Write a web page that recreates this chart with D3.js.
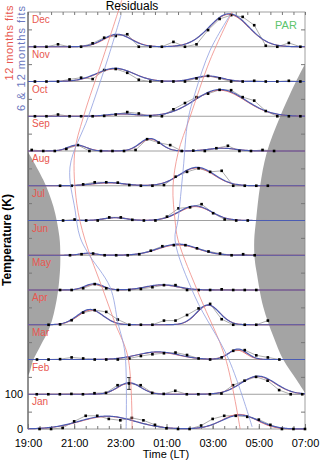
<!DOCTYPE html>
<meta charset="utf-8">
<html>
<head>
<style>
  body { margin: 0; background: #fff; }
  text { font-family: "Liberation Sans", Arial, sans-serif; }
  .axis path { display: none; }
  .axis line { stroke: #777; }
  .axis text { fill: #000; font-size: 11px; font-family: "Liberation Sans", Arial, sans-serif; }
</style>
</head>
<body>
<svg width="320" height="462"></svg>
<script src="https://d3js.org/d3.v7.min.js"></script>
<script>
// months, bottom panel first
var months = ["Jan", "Feb", "Mar", "Apr", "May", "Jun", "Jul", "Aug", "Sep", "Oct", "Nov", "Dec"];

// time of first sample (hours, >24 = after midnight), samples every 30 min
var startTimes = [19.5, 19.38, 19.39, 19.89, 20.39, 20.82, 20.52, 20.39, 19.16, 19.3, 19.3, 19.3];

// temperature residuals (K) for each month
var janValues = [0, 0, 3, 22, 38, 38, 29, 25, 32, 25, 12, 2, 0, 0, 10, 29, 38, 38, 35, 27, 12, 0, 0, 0];
var febValues = [0, 0, 0, 1, 0, 3, 4, 26, 31, 26, 4, 1, 10, 0, 0, 0, 2, 26, 39, 50, 39, 12, 0, 0];
var marValues = [0, 0, 1, 6, 3, 0, 0, 0, 3, 10, 15, 18, 20, 13, 3, 0, 6, 25, 27, 12, 6, 0];
var aprValues = [0, 1, 13, 35, 42, 37, 15, 0, 0, 0, 12, 12, 28, 47, 60, 16, 0, 0, 0, 12];
var mayValues = [0, 0, 5, 17, 5, 0, 0, 3, 8, 14, 14, 0, 0, 0, 2, 0, 0, 0];
var junValues = [0, 3, 5, 0, 0, 0, 3, 13, 26, 29, 29, 20, 11, 5, 0, 3, 0];
var julValues = [0, 3, 0, 0, 9, 9, 2, 0, 0, 11, 35, 38, 47, 21, 3, 0, 0];
var augValues = [0, 0, 4, 10, 10, 9, 2, 0, 0, 2, 26, 40, 50, 40, 43, 0, 0, 0, 0];
var sepValues = [3, 0, 0, 6, 17, 0, 0, 0, 0, 3, 34, 24, 17, 0, 1, 0, 8, 15, 0, 0, 3, 0];
var octValues = [0, 0, 5, 0, 0, 0, 1, 5, 12, 8, 0, 0, 20, 38, 55, 65, 76, 75, 55, 45, 15, 0, 0, 0];
var novValues = [0, 0, 0, 6, 11, 7, 33, 36, 25, 5, 0, 0, 0, 0, 9, 16, 9, 0, 0, 2, 0, 0, 2, 0];
var decValues = [0, 0, 7, 0, 0, 10, 26, 31, 36, 0, 0, 0, 14, 0, 7, 48, 80, 91, 86, 62, 3, 0, 11, 0];
var allValues = [janValues, febValues, marValues, aprValues, mayValues, junValues,
                 julValues, augValues, sepValues, octValues, novValues, decValues];

// error bars: [month index, sample index, +/- K]
var errorBars = [[1, 8, 17]];

// gaussian fit components [centre hour, amplitude K, width hours]
var blueFits = [
  [[22.42, 37, 1.2], [28.19, 40, 0.8]],
  [[23.38, 33, 0.5], [28.97, 52, 0.75]],
  [[24.63, 22, 0.9], [28.1, 30, 0.4]],
  [[21.69, 44, 0.55], [26.8, 57, 0.5]],
  [[21.86, 18, 0.4], [24.81, 15, 0.7]],
  [[21.6, 6, 0.35], [25.5, 32, 0.85]],
  [[22.77, 8, 0.5], [26.24, 42, 0.7]],
  [[22.47, 9, 0.7], [26.32, 53, 0.75]],
  [[21.12, 17, 0.4], [24.29, 36, 0.45], [27.41, 8, 0.6]],
  [[23.07, 7, 0.6], [27.32, 77, 1.1]],
  [[22.77, 38, 0.8], [26.8, 16, 0.6]],
  [[22.86, 36, 0.6], [27.71, 95, 0.85]]
];
var redFits = [
  [[22.45, 36, 1.2], [28.15, 42, 0.75]],
  [[23.4, 32, 0.5], [28.95, 51, 0.75]],
  [[24.6, 21, 0.9], [28.05, 27, 0.4]],
  [[21.72, 42, 0.55], [26.82, 56, 0.5]],
  [[21.86, 16, 0.4], [24.8, 14, 0.7]],
  [[21.6, 5, 0.35], [25.5, 30, 0.85]],
  [[22.8, 8, 0.5], [26.25, 40, 0.7]],
  [[22.5, 8, 0.7], [26.3, 51, 0.75]],
  [[21.15, 16, 0.4], [24.3, 34, 0.45], [27.4, 8, 0.6]],
  [[23.1, 6, 0.6], [27.3, 75, 1.1]],
  [[22.8, 37, 0.8], [26.8, 15, 0.6]],
  [[22.9, 35, 0.6], [27.7, 93, 0.85]]
];

// peak-time tracks [hour, level K on the stacked scale]
var redLeft = [[23.06, 1234], [22.9, 1200], [22.25, 1068], [21.4, 898], [21.02, 794], [21.11, 650],
               [21.47, 544], [22.25, 400], [22.77, 305], [23.33, 207], [23.51, 0]];
var blueLeft = [[23.03, 1191], [22.47, 1068], [21.61, 898], [20.82, 754], [21.04, 630], [21.25, 553],
                [21.6, 506], [22.55, 409], [22.9, 305], [23.2, 219], [23.25, 0]];
var redRight = [[27.84, 1200], [26.89, 1062], [26.02, 898], [25.5, 794], [25.28, 696], [25.37, 601],
                [25.5, 544], [26.45, 380], [27.54, 207], [28.19, 0]];
var blueRight = [[27.75, 1191], [26.89, 1090], [26.24, 967], [25.93, 889], [25.72, 745], [25.5, 601],
                 [25.37, 544], [26.24, 380], [27.7, 200], [28.71, 6]];

// daylight boundaries [hour, level K]
var sunsetEdge = [[19.0, 797], [19.66, 717], [20.1, 640], [20.36, 553], [20.4, 500], [20.38, 450],
                  [20.24, 371], [19.95, 294], [19.52, 237], [19.23, 199], [19.06, 161], [19.0, 155]];
var sunriseEdge = [[31.0, 1050], [30.64, 1004], [29.9, 895], [29.34, 794], [29.05, 697], [28.88, 601],
                   [28.8, 544], [28.82, 490], [28.91, 449], [29.19, 352], [29.63, 266], [30.06, 199],
                   [30.64, 141], [31.0, 104]];

var xTicks = [19, 21, 23, 25, 27, 29, 31];

var svg = d3.select("svg");
var padL = 28, padR = 305, padT = 12, padB = 429;

var x = d3.scaleLinear().domain([19, 31]).range([padL, padR]);
var y = d3.scaleLinear().domain([0, 1200]).range([padB, padT]);

function gauss(comps, t) {
  var s = 0;
  comps.forEach(function(c) { s += c[1] * Math.exp(-(t - c[0]) * (t - c[0]) / (2 * c[2] * c[2])); });
  return s;
}

// shaded daylight
svg.append("path")
  .attr("fill", "#a4a4a4")
  .attr("d", d3.area().curve(d3.curveCatmullRom)
    .y(function(d) { return y(d[1]); })
    .x0(x(19)).x1(function(d) { return x(d[0]); })(sunsetEdge));
svg.append("path")
  .attr("fill", "#a4a4a4")
  .attr("d", d3.area().curve(d3.curveCatmullRom)
    .y(function(d) { return y(d[1]); })
    .x0(function(d) { return x(d[0]); }).x1(x(31))(sunriseEdge));

// panel separators
for (var m = 1; m < 12; m++) {
  svg.append("line")
    .attr("x1", padL).attr("x2", padR)
    .attr("y1", y(m * 100)).attr("y2", y(m * 100))
    .attr("stroke", "#888").attr("stroke-width", 0.8);
}

// frame
svg.append("rect")
  .attr("x", padL).attr("y", padT)
  .attr("width", padR - padL).attr("height", padB - padT)
  .attr("fill", "none").attr("stroke", "#888").attr("stroke-width", 0.8);
svg.append("line")
  .attr("x1", padL).attr("x2", padL).attr("y1", padT).attr("y2", padB)
  .attr("stroke", "#333").attr("stroke-width", 0.8);

// axes
var halfHours = d3.range(19, 31.01, 0.5);
svg.append("g").attr("class", "axis")
  .attr("transform", "translate(0," + padB + ")")
  .call(d3.axisBottom(x).tickValues(halfHours).tickSize(-3).tickFormat(""));
svg.append("g").attr("class", "axis")
  .attr("transform", "translate(0," + padB + ")")
  .call(d3.axisBottom(x).tickValues(xTicks).tickSize(-5).tickPadding(10)
    .tickFormat(function(d) { return d3.format("02")(d % 24) + ":00"; }));
svg.append("g").attr("class", "axis")
  .attr("transform", "translate(0," + padT + ")")
  .call(d3.axisTop(x).tickValues(halfHours).tickSize(-3).tickFormat(""));

var midTicks = d3.range(50, 1200, 100);
svg.append("g").attr("class", "axis")
  .attr("transform", "translate(" + padL + ",0)")
  .call(d3.axisLeft(y).tickValues(midTicks).tickSize(-4).tickFormat(""));
svg.append("g").attr("class", "axis")
  .attr("transform", "translate(" + padR + ",0)")
  .call(d3.axisRight(y).tickValues(midTicks).tickSize(-4).tickFormat(""));
svg.append("g").attr("class", "axis")
  .attr("transform", "translate(" + padL + ",0)")
  .call(d3.axisLeft(y).tickValues([0, 100]).tickSize(0).tickPadding(5));

// panels
var tFine = d3.range(19, 31.001, 0.05);
months.forEach(function(name, m) {
  var base = m * 100;
  var vals = allValues[m];
  var pts = vals.map(function(v, i) { return [startTimes[m] + 0.5 * i, v]; });

  svg.append("path")
    .datum(pts)
    .attr("fill", "none").attr("stroke", "#8a8a8a").attr("stroke-width", 0.7)
    .attr("d", d3.line().x(function(d) { return x(d[0]); }).y(function(d) { return y(base + d[1]); }));

  svg.append("path")
    .datum(tFine)
    .attr("fill", "none").attr("stroke", "#e8574f").attr("stroke-width", 0.9)
    .attr("d", d3.line().x(function(t) { return x(t); }).y(function(t) { return y(base + gauss(redFits[m], t)); }));
  svg.append("path")
    .datum(tFine)
    .attr("fill", "none").attr("stroke", "#4b5cb3").attr("stroke-width", 1.2)
    .attr("d", d3.line().x(function(t) { return x(t); }).y(function(t) { return y(base + gauss(blueFits[m], t)); }));

  svg.selectAll(null).data(pts).enter().append("rect")
    .attr("x", function(d) { return x(d[0]) - 1.3; })
    .attr("y", function(d) { return y(base + d[1]) - 1.3; })
    .attr("width", 2.6).attr("height", 2.6)
    .attr("fill", "#000");

  svg.append("text")
    .attr("x", padL + 4).attr("y", y(base + 100) + 11)
    .attr("fill", "#e8574f").style("font-size", "10px")
    .text(name);
});

errorBars.forEach(function(e) {
  var t = startTimes[e[0]] + 0.5 * e[1];
  var v = e[0] * 100 + allValues[e[0]][e[1]];
  var g = svg.append("g").attr("stroke", "#000").attr("stroke-width", 0.8);
  g.append("line").attr("x1", x(t)).attr("x2", x(t)).attr("y1", y(v - e[2])).attr("y2", y(v + e[2]));
  g.append("line").attr("x1", x(t) - 2).attr("x2", x(t) + 2).attr("y1", y(v - e[2])).attr("y2", y(v - e[2]));
  g.append("line").attr("x1", x(t) - 2).attr("x2", x(t) + 2).attr("y1", y(v + e[2])).attr("y2", y(v + e[2]));
});

// peak-time tracks
var track = d3.line().curve(d3.curveCatmullRom)
  .x(function(d) { return x(d[0]); }).y(function(d) { return y(d[1]); });
[[redLeft, "#f08a84"], [redRight, "#f08a84"], [blueLeft, "#8f9ee0"], [blueRight, "#8f9ee0"]].forEach(function(p) {
  svg.append("path").datum(p[0])
    .attr("fill", "none").attr("stroke", p[1]).attr("stroke-width", 0.8)
    .attr("d", track);
});

// titles
svg.append("text").attr("x", 132).attr("y", 10).attr("text-anchor", "middle")
  .style("font-size", "12px").text("Residuals");
svg.append("text").attr("x", 286).attr("y", 29).attr("text-anchor", "middle")
  .attr("fill", "#5cc46c").style("font-size", "11px").text("PAR");
svg.append("text").attr("x", 166).attr("y", 458).attr("text-anchor", "middle")
  .style("font-size", "11px").text("Time (LT)");
svg.append("text").attr("transform", "translate(11,240) rotate(-90)").attr("text-anchor", "middle")
  .style("font-size", "12px").style("font-weight", "bold").text("Temperature (K)");
svg.append("text").attr("transform", "translate(13,5) rotate(-90)").attr("text-anchor", "end")
  .attr("fill", "#e8574f").style("font-size", "11px").style("letter-spacing", "0.5px").text("12 months fits");
svg.append("text").attr("transform", "translate(25,5) rotate(-90)").attr("text-anchor", "end")
  .attr("fill", "#6c78c0").style("font-size", "11px").style("letter-spacing", "1px").text("6 & 12 months fits");
</script>
</body>
</html>
